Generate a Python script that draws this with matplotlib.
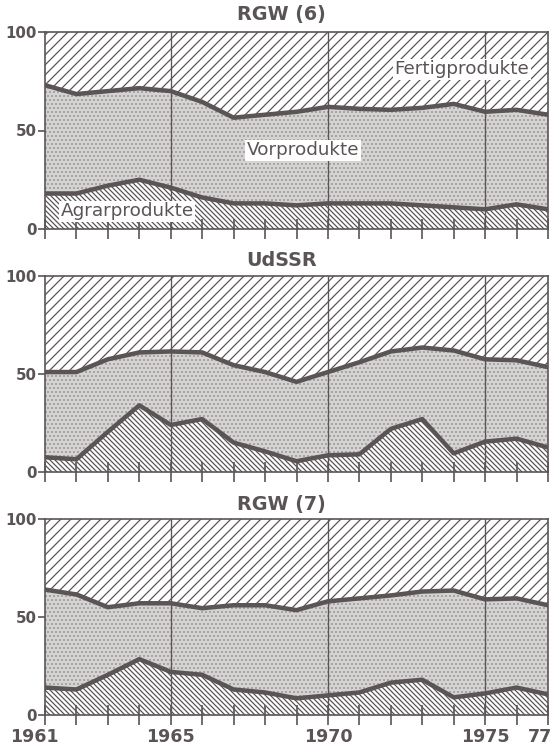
import numpy as np
import matplotlib
matplotlib.use('Agg')
import matplotlib.pyplot as plt
from matplotlib.transforms import ScaledTranslation

# Jahre
years = list(range(1961, 1978))

# RGW (6) - Anteile in %
rgw6_agrar = [18, 18, 22, 25, 21, 16, 13, 13, 12, 13, 13, 13, 12, 11, 10, 12.5, 10]
rgw6_vor = [55, 50.5, 48, 46.5, 49, 48.5, 43.5, 45, 47.5, 49, 48, 47.5, 49.5, 52.5, 49.5, 48, 48]
rgw6_fertig = [27, 31.5, 30, 28.5, 30, 35.5, 43.5, 42, 40.5, 38, 39, 39.5, 38.5, 36.5, 40.5, 39.5, 42]

# UdSSR
udssr_agrar = [7.5, 6.5, 20.5, 34, 24, 27, 15, 10.5, 5.5, 8.5, 9, 22, 27, 9.5, 15.5, 17, 12.5]
udssr_vor = [43.5, 44.5, 37, 27, 37.5, 34, 39.5, 40.5, 40.5, 42.5, 47, 39.5, 36.5, 52.5, 42, 40, 41]
udssr_fertig = [49, 49, 42.5, 39, 38.5, 39, 45.5, 49, 54, 49, 44, 38.5, 36.5, 38, 42.5, 43, 46.5]

# RGW (7)
rgw7_agrar = [14, 13, 20.5, 28.5, 22, 20.5, 13, 11.5, 8.5, 10, 11.5, 16.5, 18, 9, 11, 14, 10.5]
rgw7_vor = [50, 48.5, 34.5, 28.5, 35, 34, 43, 44.5, 45, 48, 48, 44.5, 45, 54.5, 48, 45.5, 45.5]
rgw7_fertig = [36, 38.5, 45, 43, 43, 45.5, 44, 44, 46.5, 42, 40.5, 39, 37, 36.5, 41, 40.5, 44]

titles = ['RGW (6)', 'UdSSR', 'RGW (7)']
xtick_years = [1961, 1965, 1970, 1975, 1977]
xtick_labels = ['1961', '1965', '1970', '1975', '77']
ytick_values = [0, 50, 100]

INK = '#5a5456'
DPI = 120

plt.rcParams['font.family'] = ['DejaVu Sans']
plt.rcParams['hatch.linewidth'] = 0.75


def draw_panel(ax, agrar, vor, fertig, title, title_y, show_xlabels=False):
    x = np.array(years)
    b1 = np.array(agrar)
    b2 = b1 + np.array(vor)
    b3 = b2 + np.array(fertig)

    # Flaechen
    ax.fill_between(x, 0, b1, facecolor='white', edgecolor=INK,
                    hatch='\\' * 8, linewidth=0, zorder=1)
    ax.fill_between(x, b1, b2, facecolor='#d6d3d3', edgecolor='#a09b9c',
                    hatch='.....', linewidth=0, zorder=1)
    ax.fill_between(x, b2, b3, facecolor='white', edgecolor=INK,
                    hatch='////', linewidth=0, zorder=1)

    # senkrechte Hilfslinien
    for yr in [1965, 1970, 1975]:
        ax.axvline(yr, color=INK, linewidth=0.8, zorder=2)

    # Grenzlinien
    ax.plot(x, b1, color=INK, linewidth=2.7, solid_joinstyle='round', zorder=3)
    ax.plot(x, b2, color=INK, linewidth=2.7, solid_joinstyle='round', zorder=3)

    ax.set_xlim(1961, 1977)
    ax.set_ylim(0, 100)
    for s in ax.spines.values():
        s.set_color(INK)
        s.set_linewidth(1.0)

    ax.set_yticks(ytick_values)
    ax.set_yticklabels([str(v) for v in ytick_values], fontsize=9,
                       fontweight='bold', color=INK)
    ax.tick_params(axis='y', direction='out', length=4, width=1.0,
                   color=INK, pad=1)

    ax.set_xticks(years)
    ax.tick_params(axis='x', direction='inout', length=12, width=1.0,
                   color=INK, pad=1.5)
    if show_xlabels:
        ax.set_xticks(xtick_years, minor=False)
        ax.set_xticks(years, minor=True)
        ax.tick_params(axis='x', which='minor', direction='inout',
                       length=12, width=1.0, color=INK)
        ax.set_xticklabels(xtick_labels, fontsize=10.5, fontweight='bold',
                           color=INK)
        labels = ax.get_xticklabels()
        # 1961 und 77 etwas nach innen schieben
        for lbl, dx in [(labels[0], -11), (labels[-1], -8)]:
            lbl.set_transform(lbl.get_transform() +
                              ScaledTranslation(dx / DPI, 0, ax.figure.dpi_scale_trans))
    else:
        ax.set_xticklabels([])

    ax.text(0.47, title_y, title, transform=ax.transAxes, ha='center',
            va='baseline', fontsize=11.5, fontweight='bold', color=INK)


fig = plt.figure(figsize=(555 / DPI, 748 / DPI), dpi=DPI)
fig.patch.set_facecolor('white')

left = 45 / 555
width = (548 - 45) / 555
ax1 = fig.add_axes([left, 1 - 229 / 748, width, 197 / 748])
ax2 = fig.add_axes([left, 1 - 472 / 748, width, 196 / 748])
ax3 = fig.add_axes([left, 1 - 715 / 748, width, 196 / 748])

draw_panel(ax1, rgw6_agrar, rgw6_vor, rgw6_fertig, titles[0], 1.06)
draw_panel(ax2, udssr_agrar, udssr_vor, udssr_fertig, titles[1], 1.05)
draw_panel(ax3, rgw7_agrar, rgw7_vor, rgw7_fertig, titles[2], 1.045,
           show_xlabels=True)

# Beschriftungen der Flaechen
box = dict(facecolor='white', edgecolor='none', pad=1.0)
ax1.text(1976.4, 81, 'Fertigprodukte', ha='right', va='center', fontsize=11,
         color=INK, bbox=box, zorder=5)
ax1.text(1969.2, 40, 'Vorprodukte', ha='center', va='center', fontsize=11,
         color=INK, bbox=box, zorder=5)
ax1.text(1961.5, 9, 'Agrarprodukte', ha='left', va='center', fontsize=11,
         color=INK, bbox=box, zorder=5)

fig.savefig('out.png', dpi=DPI, facecolor='white')
